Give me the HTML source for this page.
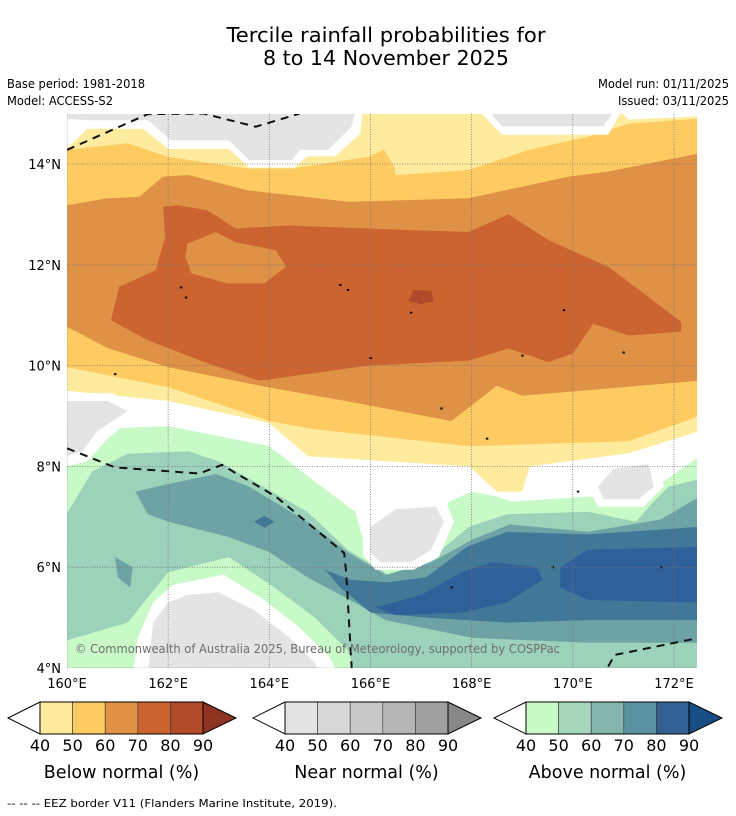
<!DOCTYPE html>
<html><head><meta charset="utf-8"><style>
html,body{margin:0;padding:0;background:#fff;}
svg{display:block;font-family:"DejaVu Sans","Liberation Sans",sans-serif;}
</style></head><body>
<svg id="chart" width="736" height="816" viewBox="0 0 736 816" xmlns="http://www.w3.org/2000/svg">
<text x="386" y="42" font-size="20" text-anchor="middle" textLength="319" lengthAdjust="spacingAndGlyphs">Tercile rainfall probabilities for</text>
<text x="386" y="65" font-size="20" text-anchor="middle" textLength="246" lengthAdjust="spacingAndGlyphs">8 to 14 November 2025</text>
<text x="7" y="88" font-size="12" textLength="138" lengthAdjust="spacingAndGlyphs">Base period: 1981-2018</text>
<text x="7" y="105" font-size="12" textLength="106" lengthAdjust="spacingAndGlyphs">Model: ACCESS-S2</text>
<text x="729" y="88" font-size="12" text-anchor="end" textLength="131" lengthAdjust="spacingAndGlyphs">Model run: 01/11/2025</text>
<text x="729" y="105" font-size="12" text-anchor="end" textLength="111" lengthAdjust="spacingAndGlyphs">Issued: 03/11/2025</text>
<defs><clipPath id="plotclip"><rect x="67" y="114" width="630" height="554"/></clipPath></defs>
<g id="map" clip-path="url(#plotclip)"></g>
<g id="axes"></g>
<g id="bars"></g>
<text x="7" y="807" font-size="11" textLength="330" lengthAdjust="spacingAndGlyphs">--  --  -- EEZ border V11 (Flanders Marine Institute, 2019).</text>
</svg>
<script>
// Axis ticks
const lonTicks = [160,162,164,166,168,170,172];
const latTicks = [4,6,8,10,12,14];
const lonTickLabels = ["160°E","162°E","164°E","166°E","168°E","170°E","172°E"];
const latTickLabels = ["4°N","6°N","8°N","10°N","12°N","14°N"];
const levels = [40,50,60,70,80,90];
// Contour polygons (lon, lat)
const below40 = [[160,15.1],[172.5,15.1],[172.5,8.7],[171.1,8.26],[169.15,8.0],[169.0,7.5],[168.5,7.5],[167.95,8.0],[164.76,8.2],[164,8.86],[162,9.3],[160,9.5]];
const below50 = [[160,14.28],[161.2,14.41],[162,14.14],[163.57,13.91],[164.45,13.91],[165.95,14.14],[166.27,14.28],[166.47,13.94],[166.5,13.78],[167.94,13.88],[169.13,14.28],[170.3,14.54],[171.1,14.8],[172.5,14.9],[172.5,9.0],[171.1,8.5],[167.95,8.4],[164.8,8.75],[164,8.9],[162,9.57],[160,9.97]];
const below60 = [[160,13.18],[160.8,13.32],[161.43,13.35],[161.9,13.75],[162.4,13.78],[163.57,13.48],[165.56,13.25],[167.94,13.32],[169.92,13.75],[170.7,13.85],[172.5,14.21],[172.5,9.7],[169,9.4],[168.5,9.6],[167.6,8.9],[165.5,9.3],[163.97,9.57],[162,9.97],[160.8,10.35],[160,10.77]];
const below70 = [[161.9,13.15],[162.2,13.18],[162.78,13.08],[163.33,12.72],[164.37,12.78],[165.95,12.72],[167.94,12.65],[168.73,13.0],[169.52,12.49],[170.7,11.96],[171.5,11.36],[172.14,10.87],[172.14,10.67],[171.1,10.6],[170.4,10.83],[170.0,10.24],[169.52,10.07],[168.73,10.34],[167.94,10.1],[165.95,10.0],[163.8,9.7],[162.8,10.04],[161.6,10.5],[160.87,10.9],[161.03,11.56],[161.75,11.89],[161.94,12.55]];
const below60Island = [[162.38,12.42],[162.94,12.65],[163.33,12.45],[164.13,12.29],[164.33,11.96],[163.9,11.63],[163.17,11.63],[162.46,11.83],[162.34,12.16]];
const below80 = [[166.85,11.5],[167.2,11.48],[167.25,11.28],[167.0,11.22],[166.75,11.28]];
const above40 = [[160,8.2],[160.4,8.5],[160.8,8.75],[162,8.8],[164,8.4],[164.9,7.7],[165.7,7.1],[165.9,6.4],[166.2,6.1],[167,6.1],[167.55,7.3],[168,7.5],[168.5,7.4],[168.8,7.3],[169.5,7.35],[170.3,7.4],[171.3,7.3],[171.8,7.7],[172.5,8.2],[172.5,3.9],[160,3.9]];
const above50 = [[160,7.07],[160.5,7.9],[161.2,8.25],[162.4,8.3],[163,8.1],[163.7,7.7],[164.75,7.1],[165.55,6.35],[166.35,5.85],[167.1,6.1],[167.95,6.8],[168.7,7.05],[170.3,7.1],[171.25,6.9],[171.6,7.3],[171.9,7.6],[172.5,7.75],[172.5,3.9],[165.7,3.9],[165.55,4.35],[164.9,5.0],[164.1,5.6],[163.2,6.2],[162,5.9],[161.6,5.4],[161.2,4.9],[160,4.55]];
const above60 = [[161.35,7.5],[162,7.65],[162.95,7.85],[163.6,7.6],[164.75,6.9],[165.55,6.3],[166.3,5.85],[167.2,6.1],[168,6.54],[168.75,6.85],[170.3,6.7],[171.75,6.95],[172.5,7.4],[172.5,4.5],[170.3,4.5],[168,4.6],[166.3,4.95],[165.5,5.4],[164.75,5.8],[164,6.3],[163.2,6.6],[162,6.9],[161.6,7.05]];
const above60Patch = [[160.95,6.2],[161.3,6.0],[161.25,5.6],[161.0,5.8]];
const above70 = [[165.1,5.95],[165.6,5.75],[166.35,5.7],[167.1,5.8],[167.9,6.4],[168.7,6.7],[170.3,6.65],[172.5,6.8],[172.5,4.95],[170.3,4.95],[168.7,4.9],[167.1,5.0],[166.0,5.1],[165.4,5.6]];
const above70Patch = [[163.7,6.9],[163.9,7.02],[164.1,6.9],[163.9,6.78]];
const above80a = [[166.1,5.2],[167.0,5.45],[167.8,5.9],[168.4,6.1],[169.3,6.0],[169.4,5.75],[168.7,5.3],[167.8,5.1],[166.5,5.05]];
const above80b = [[169.75,6.0],[170.3,6.35],[172.5,6.4],[172.5,5.3],[170.3,5.35],[169.75,5.6]];
const nearTopLeft = [[160,15.1],[160,14.9],[160.4,14.87],[161.6,14.87],[162.06,14.47],[163.2,14.47],[163.6,14.08],[164.45,14.08],[164.6,14.28],[165.16,14.28],[165.63,14.74],[165.7,15.1]];
const haloTopLeft = [[160,15.1],[160,14.3],[160.4,14.7],[161.5,14.7],[162,14.3],[163.2,14.3],[163.6,13.93],[164.5,13.93],[164.75,14.15],[165.3,14.15],[165.8,14.6],[165.85,15.1]];
const nearTopRight = [[168.3,15.1],[168.6,14.75],[170.6,14.75],[170.85,15.1]];
const haloTopRight = [[168.1,15.1],[168.6,14.58],[170.7,14.58],[171.0,15.1]];
const whiteTopStrip = [[170.9,15.1],[171.1,14.88],[172.0,14.92],[172.5,14.95],[172.5,15.1]];
const nearLeft = [[160,9.3],[160.8,9.3],[161.2,9.1],[160.6,8.7],[160.3,8.3],[160,8.2]];
const haloLeft = [[160,9.45],[160.9,9.45],[161.45,9.1],[160.8,8.55],[160.4,8.1],[160,8.0]];
const nearMid = [[166.0,6.8],[166.5,7.15],[167.3,7.2],[167.45,6.9],[167.2,6.35],[166.8,6.1],[166.2,6.1],[166.0,6.3]];
const haloMid = [[165.85,6.85],[166.4,7.35],[167.45,7.4],[167.65,6.9],[167.35,6.2],[166.85,5.95],[166.1,5.95],[165.85,6.25]];
const nearRight = [[170.5,7.6],[170.8,7.95],[171.5,8.05],[171.6,7.6],[171.3,7.35],[170.6,7.35]];
const haloRight = [[170.3,7.6],[170.7,8.12],[171.65,8.2],[171.8,7.6],[171.4,7.2],[170.5,7.2]];
const haloBottom = [[161.3,3.9],[161.4,4.6],[161.7,5.3],[162.1,5.65],[163.1,5.85],[163.9,5.35],[164.6,4.8],[165.2,4.2],[165.35,3.9]];
const nearBottom = [[161.6,3.9],[161.7,4.9],[162.0,5.3],[162.4,5.45],[163.0,5.5],[163.7,5.15],[164.4,4.6],[164.9,4.1],[165.0,3.9]];
const eezTop = [[160,14.28],[161.6,14.99],[162.7,15.0],[163.73,14.74],[164.6,15.0]];
const eezLower = [[160,8.36],[160.95,7.98],[162.62,7.86],[163.06,8.03],[164.13,7.4],[165.48,6.28],[165.52,5.88],[165.63,3.96]];
const eezBottomRight = [[170.7,4.03],[170.83,4.26],[172.5,4.6]];
const islands = [[162.25,11.55],[162.35,11.35],[165.4,11.6],[165.55,11.5],[166.8,11.05],[169.82,11.1],[166.0,10.15],[167.4,9.15],[169.0,10.2],[171.0,10.26],[160.95,9.83],[168.3,8.55],[170.1,7.5],[167.6,5.6],[169.6,6.0],[171.75,6.0]];

const SVGNS = "http://www.w3.org/2000/svg";
const px = lon => 67 + (lon - 160) * 50.58;
const py = lat => 164 + (14 - lat) * 50.4;
const map = document.getElementById('map');
function mk(tag, attrs, parent){ const e=document.createElementNS(SVGNS,tag); for(const k in attrs) e.setAttribute(k,attrs[k]); parent.appendChild(e); return e; }
function pts(arr){ return arr.map(p=>px(p[0]).toFixed(1)+','+py(p[1]).toFixed(1)).join(' '); }
function poly(arr, fill, name){
  const e = mk('polygon',{points:pts(arr),fill:fill},map);
  
  
}
mk('rect',{x:67,y:114,width:630,height:554,fill:'#fff'},map);
poly(below40,'#ffeb9d','below-40-region');
poly(below50,'#fecb62','below-50-region');
poly(below60,'#df9145','below-60-region');
poly(below70,'#cc6432','below-70-region');
poly(below60Island,'#df9145','below-60-island');
poly(below80,'#b04a28','below-80-patch');
poly(haloTopLeft,'#fff','halo-top-left');
poly(nearTopLeft,'#e4e4e4','near-normal-top-left');
poly(haloTopRight,'#fff','halo-top-right');
poly(nearTopRight,'#e4e4e4','near-normal-top-right');
poly(whiteTopStrip,'#fff','white-top-strip');
poly(above40,'#c8fac8','above-40-region');
poly(above50,'#9dd2ba','above-50-region');
poly(above60,'#6ea3a6','above-60-region');
poly(above60Patch,'#6ea3a6','above-60-patch');
poly(above70,'#417898','above-70-region');
poly(above70Patch,'#417898','above-70-patch');
poly(above80a,'#30609a','above-80-region-west');
poly(above80b,'#30609a','above-80-region-east');
poly(haloLeft,'#fff','halo-left');
poly(nearLeft,'#e4e4e4','near-normal-left');
poly(haloMid,'#fff','halo-mid');
poly(nearMid,'#e4e4e4','near-normal-mid');
poly(haloRight,'#fff','halo-right');
poly(nearRight,'#e4e4e4','near-normal-right');
poly(haloBottom,'#fff','halo-bottom');
poly(nearBottom,'#e4e4e4','near-normal-bottom');
islands.forEach(p=>{
  const e = mk('rect',{x:px(p[0])-1,y:py(p[1])-1,width:2.5,height:2,fill:'#111'},map);
  
  
});
// grid
lonTicks.forEach(l=>{ mk('line',{x1:px(l),x2:px(l),y1:114,y2:668,stroke:'#777','stroke-width':0.8,'stroke-dasharray':'1,1.5'},map); });
latTicks.forEach(l=>{ mk('line',{x1:67,x2:697,y1:py(l),y2:py(l),stroke:'#777','stroke-width':0.8,'stroke-dasharray':'1,1.5'},map); });
[eezTop,eezLower,eezBottomRight].forEach(a=>{
  const e = mk('polyline',{points:pts(a),fill:'none',stroke:'#111','stroke-width':2,'stroke-dasharray':'8,6'},map);
  
  
});
const cr = mk('text',{x:75,y:653,'font-size':12.5,fill:'#6e6e6e',textLength:485,lengthAdjust:'spacingAndGlyphs'},map);
cr.textContent = '© Commonwealth of Australia 2025, Bureau of Meteorology, supported by COSPPac';



const axes = document.getElementById('axes');
lonTicks.forEach((l,i)=>{
  const t = mk('text',{x:px(l),y:688,'font-size':13,'text-anchor':'middle'},axes);
  t.textContent = lonTickLabels[i];
  
  
});
latTicks.forEach((l,i)=>{
  const t = mk('text',{x:61,y:py(l)+5,'font-size':13,'text-anchor':'end'},axes);
  t.textContent = latTickLabels[i];
  
  
});

const bars = document.getElementById('bars');
const barDefs = [
  {x0:40, name:'below', title:'Below normal (%)', cols:['#ffeb9d','#fecb62','#df9145','#cc6432','#b04a28'], arrow:'#8e3420'},
  {x0:285, name:'near', title:'Near normal (%)', cols:['#e4e4e4','#d8d8d8','#c8c8c8','#b5b5b5','#a0a0a0'], arrow:'#888888'},
  {x0:526, name:'above', title:'Above normal (%)', cols:['#c9fbc8','#a6d7bd','#84b6ae','#5992a0','#326092'], arrow:'#174e85'}
];
barDefs.forEach(b=>{
  const w=32.6, y0=702, h=32, x1=b.x0+5*w;
  const g = mk('g',{},bars);
  
  
  mk('polygon',{points:`${b.x0},${y0} ${b.x0-32},${y0+h/2} ${b.x0},${y0+h}`,fill:'#fff',stroke:'#000','stroke-width':1},g);
  b.cols.forEach((c,i)=>{ mk('rect',{x:b.x0+i*w,y:y0,width:w,height:h,fill:c,stroke:'#333','stroke-width':0.6},g); });
  mk('polygon',{points:`${x1},${y0} ${x1+33},${y0+h/2} ${x1},${y0+h}`,fill:b.arrow,stroke:'#000','stroke-width':1},g);
  mk('rect',{x:b.x0,y:y0,width:5*w,height:h,fill:'none',stroke:'#000','stroke-width':1},g);
  levels.forEach((v,i)=>{
    const t = mk('text',{x:b.x0+i*w,y:751,'font-size':16,'text-anchor':'middle'},g);
    t.textContent = v;
    
    
  });
  const tt = mk('text',{x:b.x0+2.5*w,y:778,'font-size':17.5,'text-anchor':'middle'},g);
  tt.textContent = b.title;
  
  
});
</script>
</body></html>
